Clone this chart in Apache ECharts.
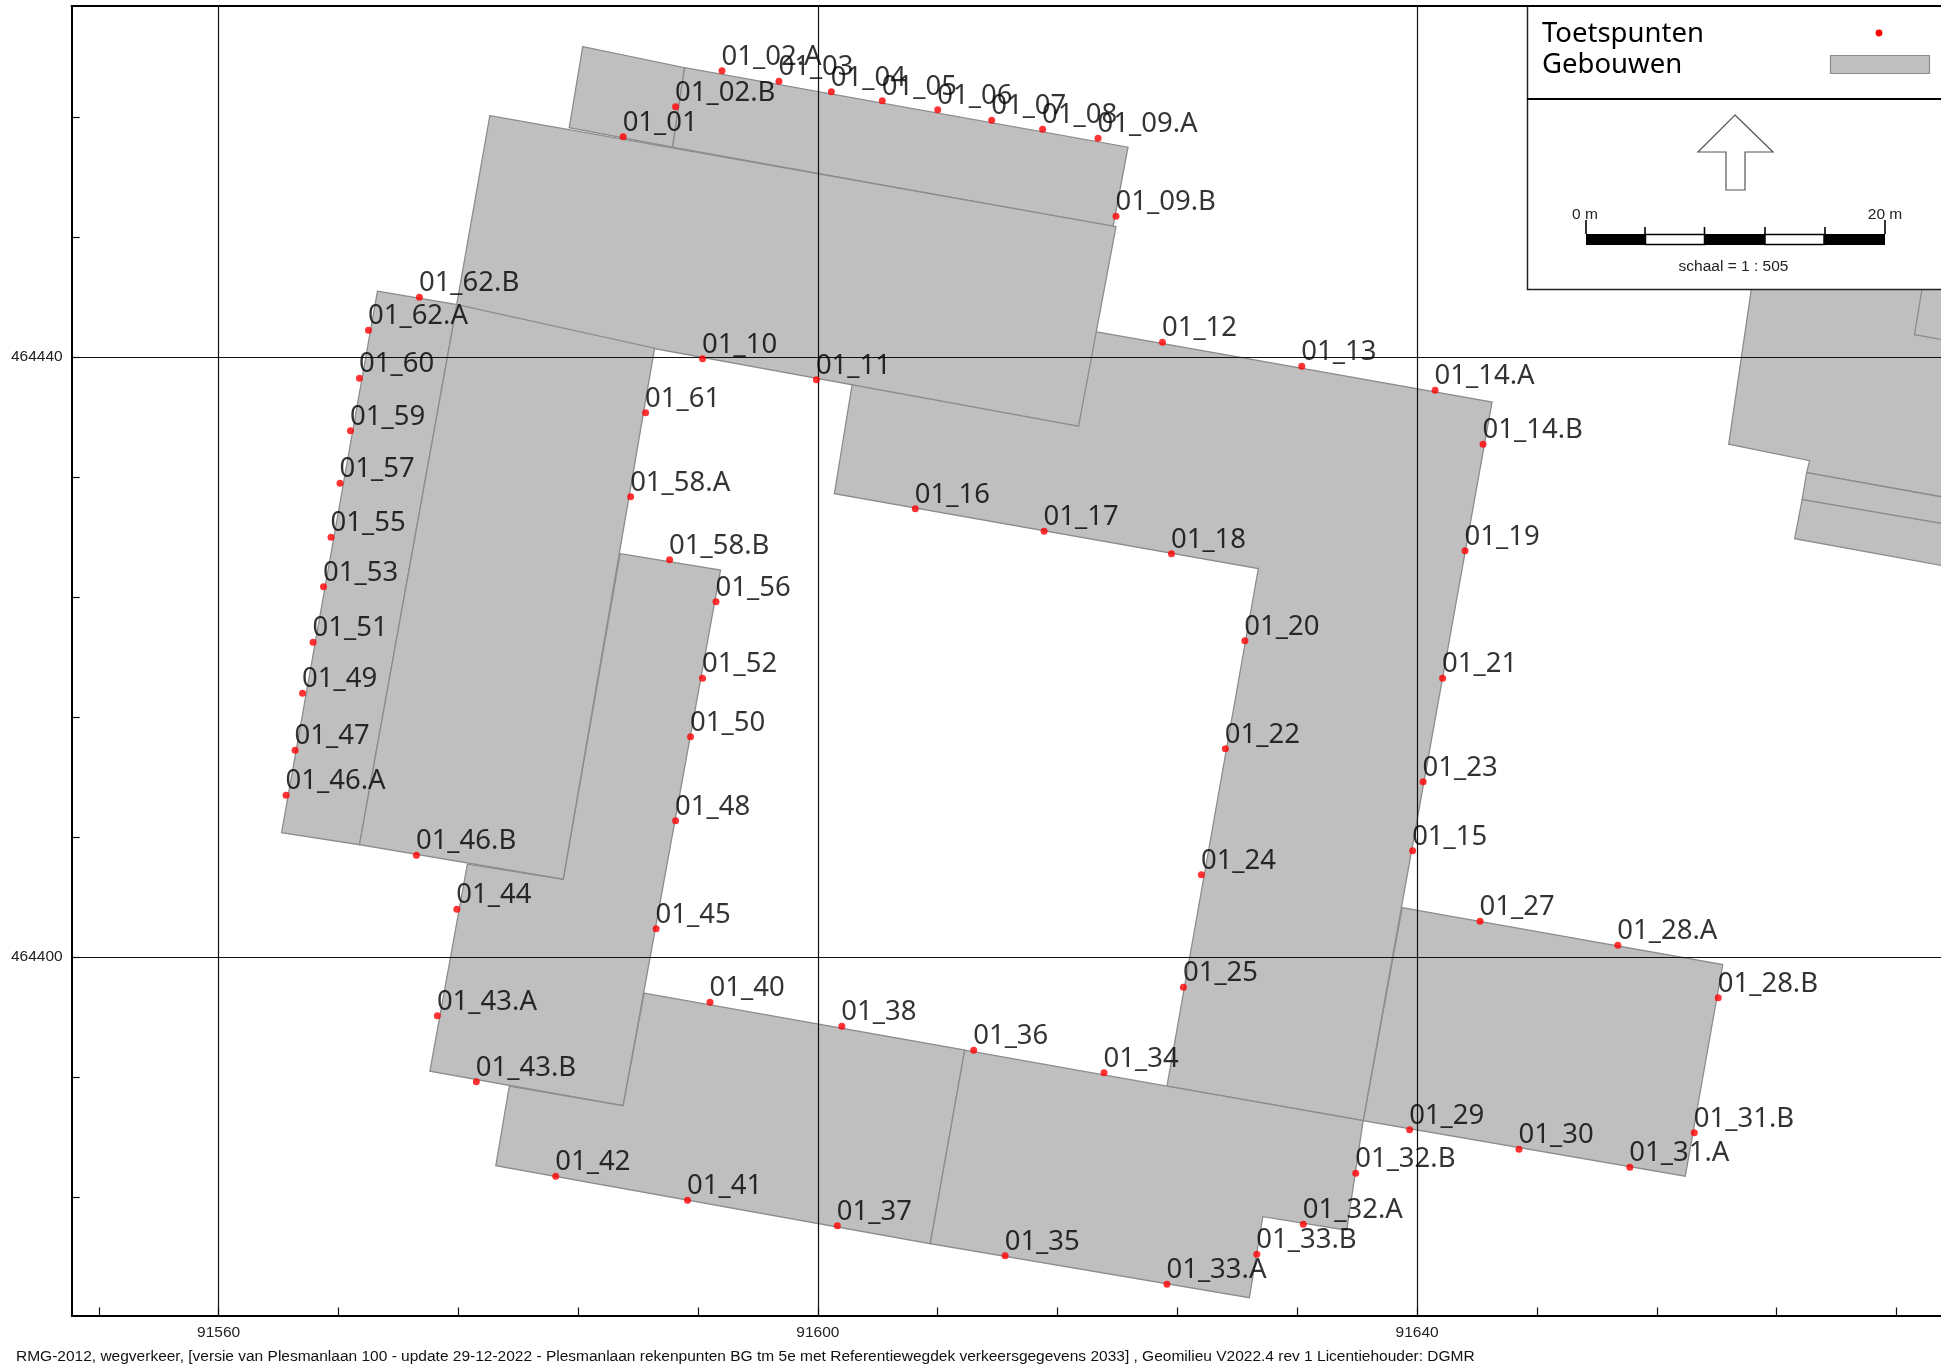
<!DOCTYPE html>
<html>
<head>
<meta charset="utf-8">
<style>html,body{margin:0;padding:0;background:#fff}#c{width:1941px;height:1364px}</style>
<script src="https://cdn.jsdelivr.net/npm/echarts@6/dist/echarts.min.js"></script>
</head>
<body>
<div id="c"></div>
<script>
const xMajor = [91560, 91600, 91640];
const yMajor = [464400, 464440];
const xTicks = [91552,91560,91568,91576,91584,91592,91600,91608,91616,91624,91632,91640,91648,91656,91664,91672];
const yTicks = [464384,464392,464400,464408,464416,464424,464432,464440,464448,464456];

const pointNames = ['01_01','01_02.A','01_02.B','01_03','01_04','01_05','01_06','01_07','01_08','01_09.A','01_09.B','01_10','01_11','01_12','01_13','01_14.A','01_14.B','01_15','01_16','01_17','01_18','01_19','01_20','01_21','01_22','01_23','01_24','01_25','01_27','01_28.A','01_28.B','01_29','01_30','01_31.A','01_31.B','01_32.A','01_32.B','01_33.A','01_33.B','01_34','01_35','01_36','01_37','01_38','01_40','01_41','01_42','01_43.A','01_43.B','01_44','01_45','01_46.A','01_46.B','01_47','01_48','01_49','01_50','01_51','01_52','01_53','01_55','01_56','01_57','01_58.A','01_58.B','01_59','01_60','01_61','01_62.A','01_62.B'];
const pointX = [91587.0,91593.6,91590.5,91597.4,91600.9,91604.3,91608.0,91611.6,91615.0,91618.7,91619.9,91592.3,91599.9,91623.0,91632.3,91641.2,91644.4,91639.7,91606.5,91615.1,91623.6,91643.2,91628.5,91641.7,91627.2,91640.4,91625.6,91624.4,91644.2,91653.4,91660.1,91639.5,91646.8,91654.2,91658.5,91632.4,91635.9,91623.3,91629.3,91619.1,91612.5,91610.4,91601.3,91601.6,91592.8,91591.3,91582.5,91574.6,91577.2,91575.9,91589.2,91564.5,91573.2,91565.1,91590.5,91565.6,91591.5,91566.3,91592.3,91567.0,91567.5,91593.2,91568.1,91587.5,91590.1,91568.8,91569.4,91588.5,91570.0,91573.4];
const pointY = [464454.7,464459.1,464456.7,464458.4,464457.7,464457.1,464456.5,464455.8,464455.2,464454.6,464449.4,464439.9,464438.5,464441.0,464439.4,464437.8,464434.2,464407.1,464429.9,464428.4,464426.9,464427.1,464421.1,464418.6,464413.9,464411.7,464405.5,464398.0,464402.4,464400.8,464397.3,464388.5,464387.2,464386.0,464388.3,464382.2,464385.6,464378.2,464380.2,464392.3,464380.1,464393.8,464382.1,464395.4,464397.0,464383.8,464385.4,464396.1,464391.7,464403.2,464401.9,464410.8,464406.8,464413.8,464409.1,464417.6,464414.7,464421.0,464418.6,464424.7,464428.0,464423.7,464431.6,464430.7,464426.5,464435.1,464438.6,464436.3,464441.8,464444.0];

const eastWing = [[91639.0,464403.3],[91660.4,464399.5],[91657.9,464385.4],[91636.4,464389.1]];
const northEastWing = [[91603.3,464444.4],[91645.0,464437.0],[91636.4,464389.1],[91623.3,464391.4],[91629.4,464425.9],[91601.1,464430.9]];
const roofWest = [[91584.3,464460.7],[91591.1,464459.3],[91590.3,464454.0],[91583.4,464455.3]];
const roofEast = [[91591.1,464459.3],[91620.7,464454.0],[91619.7,464448.7],[91590.3,464454.0]];
const northBlock = [[91578.1,464456.1],[91619.9,464448.7],[91617.4,464435.4],[91575.8,464443.0]];
const southMiddle = [[91586.8,464426.9],[91593.5,464425.8],[91587.0,464390.1],[91574.1,464392.4],[91576.6,464406.2],[91583.0,464405.2]];
const westStrip = [[91570.6,464444.4],[91575.9,464443.5],[91569.4,464407.5],[91564.2,464408.3]];
const westBlock = [[91575.9,464443.5],[91589.1,464440.6],[91583.0,464405.2],[91569.4,464407.5]];
const southWest = [[91588.4,464397.6],[91609.8,464393.8],[91607.5,464380.9],[91578.5,464386.1],[91579.4,464391.4],[91587.0,464390.1]];
const southEast = [[91609.8,464393.8],[91623.3,464391.4],[91636.4,464389.1],[91635.3,464381.8],[91629.7,464382.7],[91628.8,464377.3],[91607.5,464380.9]];
const farEastA = [[91665.3,464465],[91660.8,464434.2],[91666.2,464433.1],[91666.0,464432.3],[91685,464428.9],[91690,464465]];
const farEastB = [[91666.0,464432.3],[91685,464428.9],[91685,464427.2],[91665.7,464430.5]];
const farEastC = [[91665.7,464430.5],[91685,464427.2],[91685,464424.3],[91665.2,464427.9]];
const farEastD = [[91676.6,464462],[91673.2,464441.5],[91690,464438.5],[91690,464462]];
const buildings = [eastWing, northEastWing, roofWest, roofEast, northBlock, southMiddle, westStrip, westBlock, southWest, southEast, farEastA, farEastB, farEastC, farEastD];

const footerText = 'RMG-2012, wegverkeer, [versie van Plesmanlaan 100 - update 29-12-2022 - Plesmanlaan rekenpunten BG tm 5e met Referentiewegdek verkeersgegevens 2033] , Geomilieu V2022.4 rev 1 Licentiehouder: DGMR';
const legendNames = ['Toetspunten', 'Gebouwen'];

const MAP_FONT = '"Noto Sans"';
const SMALL_FONT = '"Liberation Sans"';
const chart = echarts.init(document.getElementById('c'), null, {renderer:'canvas'});

function deco(o){ o.z = 100; o.silent = true; return o; }
function dline(x1,y1,x2,y2,w,c){ return deco({type:'line',shape:{x1,y1,x2,y2},style:{stroke:c||'#000',lineWidth:w}}); }
function drect(x,y,w,h,fill,stroke,lw){ return deco({type:'rect',shape:{x,y,width:w,height:h},style:{fill,stroke:stroke||null,lineWidth:lw||0}}); }
function dtext(x,y,text,font,fill,align){ return deco({type:'text',style:{x,y,text,font,fill:fill||'#000',align:align||'left',verticalAlign:'middle'}}); }

const legendGraphics = [
  drect(1527.5,6,420,283.5,'#fff','#222',1.5),
  dline(70.7,6,1941,6,2,'#000'),
  dline(1527,99,1945,99,2.2,'#000'),
  dtext(1542,34,legendNames[0],'27.5px '+MAP_FONT),
  dtext(1542,65,legendNames[1],'27.5px '+MAP_FONT),
  deco({type:'circle',shape:{cx:1879,cy:33,r:3.4},style:{fill:'#f00'}}),
  drect(1830.5,55.5,99,18,'#bfbfbf','#8c8c8c',1.2),
  deco({type:'polygon',shape:{points:[[1735,115],[1773,152],[1745,152],[1745,190],[1726,190],[1726,152],[1698,152]]},style:{fill:'#fff',stroke:'#555',lineWidth:1.2}}),
  drect(1586,234,59,11,'#000'),
  drect(1645.5,234.5,59,10,'#fff','#000',1.5),
  drect(1704,234,61,11,'#000'),
  drect(1765,234.5,59,10,'#fff','#000',1.5),
  drect(1824,234,61,11,'#000'),
  dline(1586,220,1586,234,1.6),
  dline(1645,227,1645,234,1.6),
  dline(1704.5,227,1704.5,234,1.6),
  dline(1765,227,1765,234,1.6),
  dline(1825,227,1825,234,1.6),
  dline(1885,220,1885,234,1.6),
  dtext(1585,215,'0 m','15.5px '+SMALL_FONT,'#222','center'),
  dtext(1885,215,'20 m','15.5px '+SMALL_FONT,'#222','center'),
  dtext(1733.5,267,'schaal = 1 : 505','15.5px '+SMALL_FONT,'#222','center')
];

const frameLine = {show:true,onZero:false,lineStyle:{color:'#000',width:2}};

chart.setOption({
  animation:false,
  backgroundColor:'#fff',
  title:{text:footerText,left:16,top:1349,padding:0,textStyle:{fontFamily:SMALL_FONT,fontSize:15.5,fontWeight:'normal',color:'#111'}},
  grid:{left:71.7,top:6,right:0,height:1309.5,show:false},
  xAxis:{type:'value',min:91550.19,max:91674.97,
    axisLine:frameLine,splitLine:{show:false},
    axisTick:{show:true,inside:true,length:8,customValues:xTicks,lineStyle:{color:'#111',width:1.2}},
    axisLabel:{customValues:xMajor,margin:9,fontFamily:SMALL_FONT,fontSize:15.5,color:'#222',formatter:v=>String(v)}},
  yAxis:{type:'value',min:464376.11,max:464463.41,
    axisLine:frameLine,splitLine:{show:false},
    axisTick:{show:true,inside:true,length:8,customValues:yTicks,lineStyle:{color:'#111',width:1.2}},
    axisLabel:{customValues:yMajor,margin:9,fontFamily:SMALL_FONT,fontSize:15.5,color:'#222',formatter:v=>String(v)}},
  graphic:{elements:legendGraphics},
  series:[
    {name:legendNames[1],type:'custom',coordinateSystem:'cartesian2d',clip:true,z:2,silent:true,
      data:buildings.map(b=>b[0]),
      renderItem:function(params,api){
        const pts = buildings[params.dataIndex].map(p=>api.coord(p));
        return {type:'polygon',shape:{points:pts},style:{fill:'#bfbfbf',stroke:'#8c8c8c',lineWidth:1.3}};
      },
      markLine:{silent:true,symbol:'none',z:3,animation:false,label:{show:false},
        lineStyle:{color:'#111',type:'solid',width:1.2,opacity:1},
        data:xMajor.map(v=>({xAxis:v})).concat(yMajor.map(v=>({yAxis:v})))}
    },
    {name:legendNames[0],type:'scatter',z:10,symbol:'circle',symbolSize:7,silent:true,
      itemStyle:{color:'#f00'},
      data:pointNames.map((n,i)=>({name:n,value:[pointX[i],pointY[i]]})),
      label:{show:true,position:'right',distance:0,offset:[-4,-13.5],formatter:'{b}',fontFamily:MAP_FONT,fontSize:27.5,color:'#000'}
    }
  ]
});
</script>
</body>
</html>
